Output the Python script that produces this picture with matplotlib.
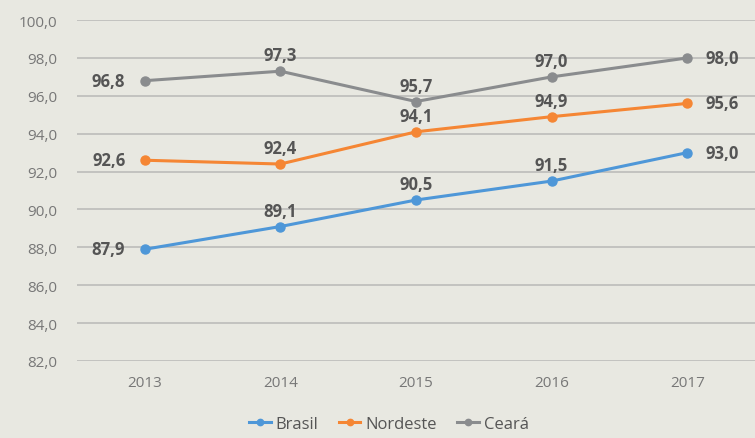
import matplotlib.pyplot as plt
import numpy as np

anos = ['2013', '2014', '2015', '2016', '2017']
brasil = [87.9, 89.1, 90.5, 91.5, 93.0]
nordeste = [92.6, 92.4, 94.1, 94.9, 95.6]
ceara = [96.8, 97.3, 95.7, 97.0, 98.0]

fundo = '#e8e8e1'
cores = {'Brasil': '#4e97d8', 'Nordeste': '#f58634', 'Ceará': '#8a8c8e'}

plt.rcParams['font.family'] = ['Open Sans', 'DejaVu Sans']

fig = plt.figure(figsize=(7.55, 4.39), dpi=100, facecolor=fundo)
ax = fig.add_axes([0.102, 0.1754, 0.898, 0.7766])
ax.set_facecolor(fundo)

x = np.arange(len(anos))
series = [('Brasil', brasil), ('Nordeste', nordeste), ('Ceará', ceara)]
for nome, vals in series:
    ax.plot(x, vals, color=cores[nome], lw=2.2, marker='o', ms=6.5, label=nome, zorder=3)
    for i, v in enumerate(vals):
        txt = f'{v:.1f}'.replace('.', ',')
        if i == 0:
            ax.annotate(txt, (x[i], v), xytext=(-14, 0), textcoords='offset points',
                        ha='right', va='center', fontsize=12, fontweight='bold', color='#555555')
        elif i == len(vals) - 1:
            ax.annotate(txt, (x[i], v), xytext=(13, 0), textcoords='offset points',
                        ha='left', va='center', fontsize=12, fontweight='bold', color='#555555')
        else:
            ax.annotate(txt, (x[i], v), xytext=(0, 5), textcoords='offset points',
                        ha='center', va='bottom', fontsize=12, fontweight='bold', color='#555555')

ax.set_xlim(-0.5, 4.5)
ax.set_ylim(82, 100)
ax.set_yticks(np.arange(82, 100.1, 2))
ax.set_yticklabels([f'{t:.1f}'.replace('.', ',') for t in np.arange(82, 100.1, 2)])
ax.set_xticks(x)
ax.set_xticklabels(anos)
ax.tick_params(length=0, colors='#777777', labelsize=11)
ax.tick_params(axis='y', pad=14)
ax.tick_params(axis='x', pad=10)
ax.grid(axis='y', color='#c0c0bd', lw=1.3, zorder=0)
for s in ax.spines.values():
    s.set_visible(False)

fig.legend(loc='lower center', ncol=3, frameon=False, bbox_to_anchor=(0.515, -0.02),
           fontsize=12, labelcolor='#555555', handlelength=1.3, columnspacing=1.2,
           handletextpad=0.3, markerscale=0.7)

fig.savefig('out.png', dpi=100, facecolor=fundo)
